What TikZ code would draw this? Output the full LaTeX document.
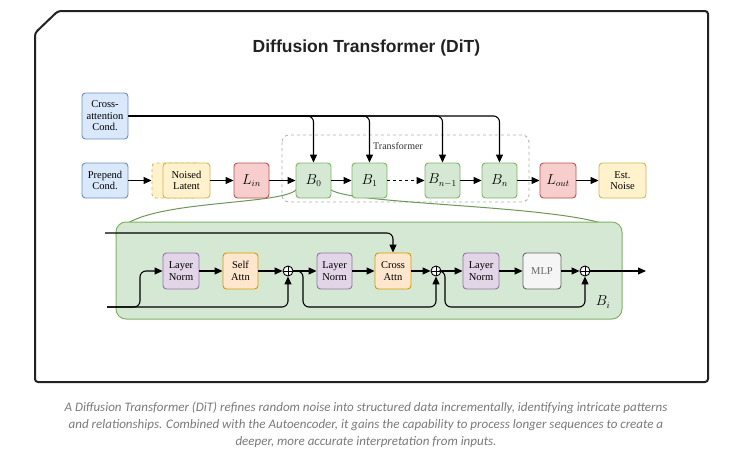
\documentclass[tikz,border=0pt]{standalone}
\usepackage{fontspec}
\setmainfont{Liberation Serif}
\newfontfamily\titlefont{Liberation Sans}
\newfontfamily\capfont{Carlito}
\usetikzlibrary{arrows.meta}
\definecolor{bluef}{HTML}{DAE8FC}\definecolor{blued}{HTML}{6C8EBF}
\definecolor{yelf}{HTML}{FFF2CC}\definecolor{yeld}{HTML}{D6B656}
\definecolor{redf}{HTML}{F8CECC}\definecolor{redd}{HTML}{B85450}
\definecolor{grnf}{HTML}{D5E8D4}\definecolor{grnd}{HTML}{82B366}
\definecolor{purf}{HTML}{E1D5E7}\definecolor{purd}{HTML}{9673A6}
\definecolor{orgf}{HTML}{FFE6CC}\definecolor{orgd}{HTML}{D79B00}
\definecolor{gryf}{HTML}{F5F5F5}\definecolor{gryd}{HTML}{666666}
\definecolor{capgray}{HTML}{7A7A7A}
\definecolor{frame}{HTML}{222222}
\begin{document}
\begin{tikzpicture}[x=1pt,y=-1pt,
  box/.style={draw, rounded corners=3.5pt, line width=0.9pt, inner sep=0pt, align=center,
    font=\fontsize{10.5}{11.5}\selectfont, minimum width=35pt, minimum height=35pt},
  bluebox/.style={box, fill=bluef, draw=blued},
  yelbox/.style={box, fill=yelf, draw=yeld},
  redbox/.style={box, fill=redf, draw=redd},
  grnbox/.style={box, fill=grnf, draw=grnd},
  purbox/.style={box, fill=purf, draw=purd},
  orgbox/.style={box, fill=orgf, draw=orgd},
  grybox/.style={box, fill=gryf, draw=gryd, text=gryd},
  mathlbl/.style={font=\fontsize{13.5}{15}\selectfont},
  plusnode/.style={circle, draw, fill=white, line width=0.9pt, minimum size=10pt, inner sep=0pt},
  arr/.style={line width=1.1pt, -{Triangle[length=8pt,width=7pt]}},
  ln/.style={line width=1.1pt}
]
\useasboundingbox (0,0) rectangle (732,466);
\fill[white] (0,0) rectangle (732,466);

% outer frame
\draw[line width=2pt, frame, rounded corners=3pt] (35,33) -- (58,11) -- (708,11) -- (708,382) -- (35,382) -- cycle;

% title
\node[font=\titlefont\bfseries\fontsize{17.5}{20}\selectfont, text=frame] (title) at (366.5,48) {Diffusion Transformer (DiT)};

% transformer dashed box
\draw[dashed, draw=gray!60, line width=0.9pt, rounded corners=7pt] (282,135) rectangle (529,202);
\node[font=\fontsize{10}{11}\selectfont, text=black!80] (tlabel) at (398,146) {Transformer};

% callout curves
\draw[grnd!85!black, line width=1pt] (297,189) .. controls (283,207) and (128,198) .. (116,236);
\draw[grnd!85!black, line width=1pt] (330,189) .. controls (346,207) and (618,204) .. (622,236);

% green block
\draw[fill=grnf, draw=grnd, line width=1pt, rounded corners=10pt] (116,222) rectangle (622,319);
\node[mathlbl] (bi) at (603,302) {$B_i$};

% top row nodes
\node[bluebox, minimum width=46pt, minimum height=46pt] (cross) at (105,116) {Cross-\\attention\\Cond.};
\node[bluebox, minimum width=46pt] (prep) at (105,180.5) {Prepend\\Cond.};
\node[yelbox, dashed, minimum width=47pt] (nlback) at (175.5,180.5) {};
\node[yelbox, minimum width=47pt] (nl) at (186.5,180.5) {Noised\\Latent};
\node[redbox, mathlbl] (lin) at (251.5,180.5) {$L_{in}$};
\node[grnbox, mathlbl] (b0) at (313.5,180.5) {$B_0$};
\node[grnbox, mathlbl] (b1) at (369.5,180.5) {$B_1$};
\node[grnbox, mathlbl] (bn1) at (442.5,180.5) {$B_{n-1}$};
\node[grnbox, mathlbl] (bn) at (499.5,180.5) {$B_n$};
\node[redbox, mathlbl, minimum width=36pt] (lout) at (558,180.5) {$L_{out}$};
\node[yelbox, minimum width=47pt] (est) at (622.5,180.5) {Est.\\Noise};

% top row arrows
\draw[arr] (prep) -- (nlback);
\draw[arr] (nl) -- (lin);
\draw[arr] (lin) -- (b0);
\draw[arr] (b0) -- (b1);
\draw[arr, dashed] (b1) -- (bn1);
\draw[arr] (bn1) -- (bn);
\draw[arr] (bn) -- (lout);
\draw[arr] (lout) -- (est);
\draw[arr, rounded corners=6pt] (cross.east) -| (bn.north);
\draw[arr, rounded corners=6pt] (cross.east) -| (bn1.north);
\draw[arr, rounded corners=6pt] (cross.east) -| (b1.north);
\draw[arr, rounded corners=6pt] (cross.east) -| (b0.north);

% bottom row nodes
\node[purbox, minimum width=36pt, minimum height=36pt] (ln1) at (181,271) {Layer\\Norm};
\node[orgbox, minimum height=36pt] (sa) at (240.5,271) {Self\\Attn};
\node[plusnode] (p1) at (288,271) {};
\node[purbox, minimum height=36pt] (ln2) at (334.5,271) {Layer\\Norm};
\node[orgbox, minimum width=36pt, minimum height=36pt] (ca) at (393,271) {Cross\\Attn};
\node[plusnode] (p2) at (436,271) {};
\node[purbox, minimum width=36pt, minimum height=36pt] (ln3) at (481,271) {Layer\\Norm};
\node[grybox, minimum width=38pt, minimum height=36pt] (mlp) at (542,271) {MLP};
\node[plusnode] (p3) at (585,271) {};
\foreach \p in {p1,p2,p3}{
  \draw[line width=0.9pt] (\p.north) -- (\p.south) (\p.west) -- (\p.east);
}

% bottom coordinates
\coordinate (tl) at (105,233);
\coordinate (bl) at (107,307);
\coordinate (j1) at (140,271);
\coordinate (j2) at (303,307);
\coordinate (j3) at (445,307);
\coordinate (outp) at (646,271);

% bottom arrows
\draw[arr, rounded corners=6pt] (tl) -| (ca.north);
\draw[arr, rounded corners=6pt] (bl) -| (p1.south);
\draw[arr, rounded corners=6pt] (bl) -| (j1) -- (ln1.west);
\draw[arr] (ln1) -- (sa);
\draw[arr] (sa) -- (p1.west);
\draw[arr] (p1.east) -- (ln2.west);
\draw[arr, rounded corners=6pt] (p1.east) -| (j2) -| (p2.south);
\draw[arr] (ln2) -- (ca);
\draw[arr] (ca) -- (p2.west);
\draw[arr] (p2.east) -- (ln3.west);
\draw[arr, rounded corners=6pt] (p2.east) -| (j3) -| (p3.south);
\draw[arr] (ln3) -- (mlp);
\draw[arr] (mlp) -- (p3.west);
\draw[arr] (p3.east) -- (outp);

% caption
\node[font=\capfont\itshape\fontsize{13}{17}\selectfont, text=capgray, align=center] (cap) at (366,425)
 {A Diffusion Transformer (DiT) refines random noise into structured data incrementally, identifying intricate patterns\\
  and relationships. Combined with the Autoencoder, it gains the capability to process longer sequences to create a\\
  deeper, more accurate interpretation from inputs.};
\end{tikzpicture}
\end{document}
